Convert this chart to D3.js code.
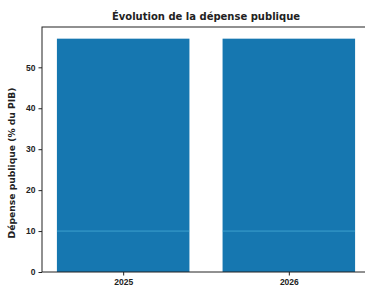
<!DOCTYPE html>
<html>
<head>
<meta charset="utf-8">
<script src="https://cdn.jsdelivr.net/npm/d3@7"></script>
<style>
  body { margin: 0; background: #fff; }
  svg { display: block; font-family: "DejaVu Sans", sans-serif; }
</style>
</head>
<body>
<div id="chart"></div>
<script>
// --- data ---
const years = ['2025', '2026'];
const spending = [57.0, 57.0];
const yTicks = [0, 10, 20, 30, 40, 50];

// --- sizing ---
const W = 365, H = 287;
const margin = { top: 27, left: 42, bottom: 15, right: -5 };
const width = W - margin.left - margin.right;
const height = H - margin.top - margin.bottom;

const svg = d3.select('#chart').append('svg')
  .attr('width', W)
  .attr('height', H);

const chart = svg.append('g')
  .attr('transform', `translate(${margin.left}, ${margin.top})`);

// matplotlib-like linear x for categories with 5% margins
const x = d3.scaleLinear()
  .domain([-0.49, 1.49])
  .range([0, width]);
const barW = 0.8;

const y = d3.scaleLinear()
  .domain([0, d3.max(spending) * 1.05])
  .range([height, 0]);

// --- bars ---
chart.selectAll('.bar')
  .data(spending)
  .enter().append('rect')
  .attr('class', 'bar')
  .attr('x', (d, i) => x(i - barW / 2))
  .attr('width', (d, i) => x(i + barW / 2) - x(i - barW / 2))
  .attr('y', d => y(d))
  .attr('height', d => y(0) - y(d))
  .style('fill', '#1677b0');

// faint line across bars at 10
chart.selectAll('.seam')
  .data(spending)
  .enter().append('line')
  .attr('class', 'seam')
  .attr('x1', (d, i) => x(i - barW / 2))
  .attr('x2', (d, i) => x(i + barW / 2))
  .attr('y1', y(10))
  .attr('y2', y(10))
  .style('stroke', '#5bc0e6')
  .style('stroke-width', 0.8)
  .style('opacity', 0.7);

// --- axes ---
const yAxis = d3.axisLeft(y)
  .tickValues(yTicks)
  .tickSize(3.5)
  .tickPadding(3);

const xAxis = d3.axisBottom(x)
  .tickValues(years.map((d, i) => i))
  .tickFormat(i => years[i])
  .tickSize(3.5)
  .tickPadding(3);

const gy = chart.append('g').call(yAxis);
const gx = chart.append('g')
  .attr('transform', `translate(0, ${height})`)
  .call(xAxis);

[gx, gy].forEach(g => {
  g.select('.domain').remove();
  g.selectAll('line').style('stroke', '#222');
  g.selectAll('text')
    .style('font-size', '8.5px')
    .style('font-weight', 'bold')
    .style('fill', '#222');
});

// spines
chart.append('rect')
  .attr('width', width)
  .attr('height', height)
  .style('fill', 'none')
  .style('stroke', '#222')
  .style('stroke-width', 1);

// --- labels ---
svg.append('text')
  .attr('x', margin.left + width / 2)
  .attr('y', 20)
  .attr('text-anchor', 'middle')
  .style('font-size', '10px')
  .style('font-weight', 'bold')
  .style('fill', '#222')
  .text('Évolution de la dépense publique');

svg.append('text')
  .attr('transform', 'translate(15, 163) rotate(-90)')
  .attr('text-anchor', 'middle')
  .style('font-size', '9.2px')
  .style('font-weight', 'bold')
  .style('fill', '#222')
  .text('Dépense publique (% du PIB)');
</script>
</body>
</html>
